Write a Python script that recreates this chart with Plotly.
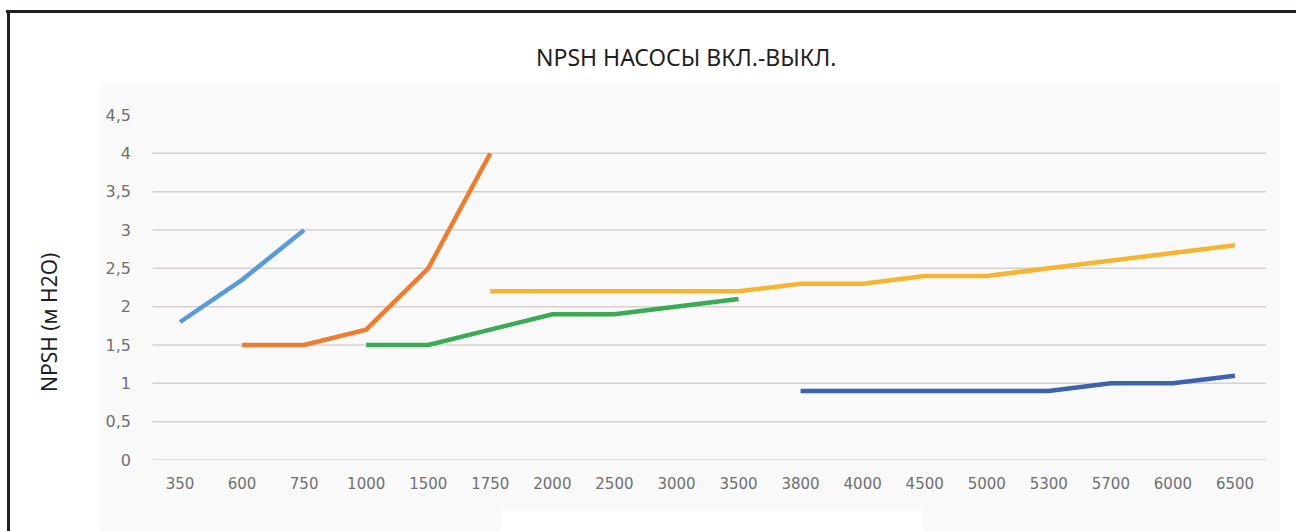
import plotly.graph_objects as go

# Flow rate categories (x axis)
categories = ["350", "600", "750", "1000", "1500", "1750", "2000", "2500", "3000",
              "3500", "3800", "4000", "4500", "5000", "5300", "5700", "6000", "6500"]

# NPSH values per pump series (None = no value at that flow)
series_1 = [1.8, 2.35, 3.0] + [None] * 15
series_2 = [None, 1.5, 1.5, 1.7, 2.5, 4.0] + [None] * 12
series_3 = [None] * 3 + [1.5, 1.5, 1.7, 1.9, 1.9, 2.0, 2.1] + [None] * 8
series_4 = [None] * 5 + [2.2, 2.2, 2.2, 2.2, 2.2, 2.3, 2.3, 2.4, 2.4, 2.5, 2.6, 2.7, 2.8]
series_5 = [None] * 10 + [0.9, 0.9, 0.9, 0.9, 0.9, 1.0, 1.0, 1.1]

series_names = ["Серия 1", "Серия 2", "Серия 3", "Серия 4", "Серия 5"]
series_colors = ["#5b9bd5", "#ed7d31", "#3aaa55", "#f3b532", "#3f62ad"]

# Y axis ticks
y_ticks = [0, 0.5, 1, 1.5, 2, 2.5, 3, 3.5, 4, 4.5]
y_ticktext = ["0", "0,5", "1", "1,5", "2", "2,5", "3", "3,5", "4", "4,5"]
grid_values = [0, 0.5, 1, 1.5, 2, 2.5, 3, 3.5, 4]

W, H = 1296, 531
ML, MR, MT, MB = 149, 30, 115, 71
plot_w = W - ML - MR
plot_h = H - MT - MB


def px_x(p):
    return (p - ML) / plot_w


def px_y(p):
    return (H - MB - p) / plot_h


fig = go.Figure()
for name, vals, col in zip(series_names,
                           [series_1, series_2, series_3, series_4, series_5],
                           series_colors):
    fig.add_trace(go.Scatter(x=categories, y=vals, mode="lines", name=name,
                             line=dict(color=col, width=4.5),
                             connectgaps=False, showlegend=False))

shapes = []
# light panel behind the chart
shapes.append(dict(type="rect", xref="paper", yref="paper", layer="below",
                   x0=px_x(100), x1=px_x(1280), y0=px_y(535), y1=px_y(83),
                   fillcolor="#f9f9f9", line=dict(width=0)))
shapes.append(dict(type="rect", xref="paper", yref="paper", layer="below",
                   x0=px_x(501), x1=px_x(923), y0=px_y(535), y1=px_y(511),
                   fillcolor="#ffffff", line=dict(width=0)))
# horizontal gridlines
for g in grid_values:
    shapes.append(dict(type="line", xref="paper", yref="y", layer="below",
                       x0=0.003, x1=1.0, y0=g, y1=g,
                       line=dict(color="#d8d0d0", width=1.5)))
# outer frame (top and left edges)
shapes.append(dict(type="line", xref="paper", yref="paper",
                   x0=px_x(6), x1=px_x(1300), y0=px_y(11.5), y1=px_y(11.5),
                   line=dict(color="#231f20", width=3)))
shapes.append(dict(type="line", xref="paper", yref="paper",
                   x0=px_x(8.5), x1=px_x(8.5), y0=px_y(10), y1=px_y(540),
                   line=dict(color="#231f20", width=3)))

fig.update_layout(
    width=W, height=H,
    margin=dict(l=ML, r=MR, t=MT, b=MB),
    paper_bgcolor="#ffffff",
    plot_bgcolor="rgba(0,0,0,0)",
    shapes=shapes,
    showlegend=False,
    font=dict(family="DejaVu Sans", color="#6b6b6b"),
    xaxis=dict(type="category", categoryorder="array", categoryarray=categories,
               range=[-0.5, len(categories) - 0.5], showgrid=False, zeroline=False,
               showline=False, ticks="", tickfont=dict(size=15, color="#707070"),
               ticklabelstandoff=13),
    yaxis=dict(range=[0, 4.5], tickvals=y_ticks, ticktext=y_ticktext,
               showgrid=False, zeroline=False, showline=False, ticks="",
               tickfont=dict(size=16, color="#707070"), ticklabelstandoff=17),
    annotations=[
        dict(text="NPSH НАСОСЫ ВКЛ.-ВЫКЛ.", xref="paper", yref="paper",
             x=px_x(686), y=px_y(57), xanchor="center", yanchor="middle",
             showarrow=False,
             font=dict(family="Liberation Sans Narrow, Noto Sans", size=23, color="#1f1f1f")),
        dict(text="NPSH (м H2O)", xref="paper", yref="paper",
             x=px_x(49), y=px_y(323), xanchor="center", yanchor="middle",
             textangle=-90, showarrow=False,
             font=dict(family="Noto Sans", size=21, color="#1f1f1f")),
    ],
)

fig.write_html("out.html")
